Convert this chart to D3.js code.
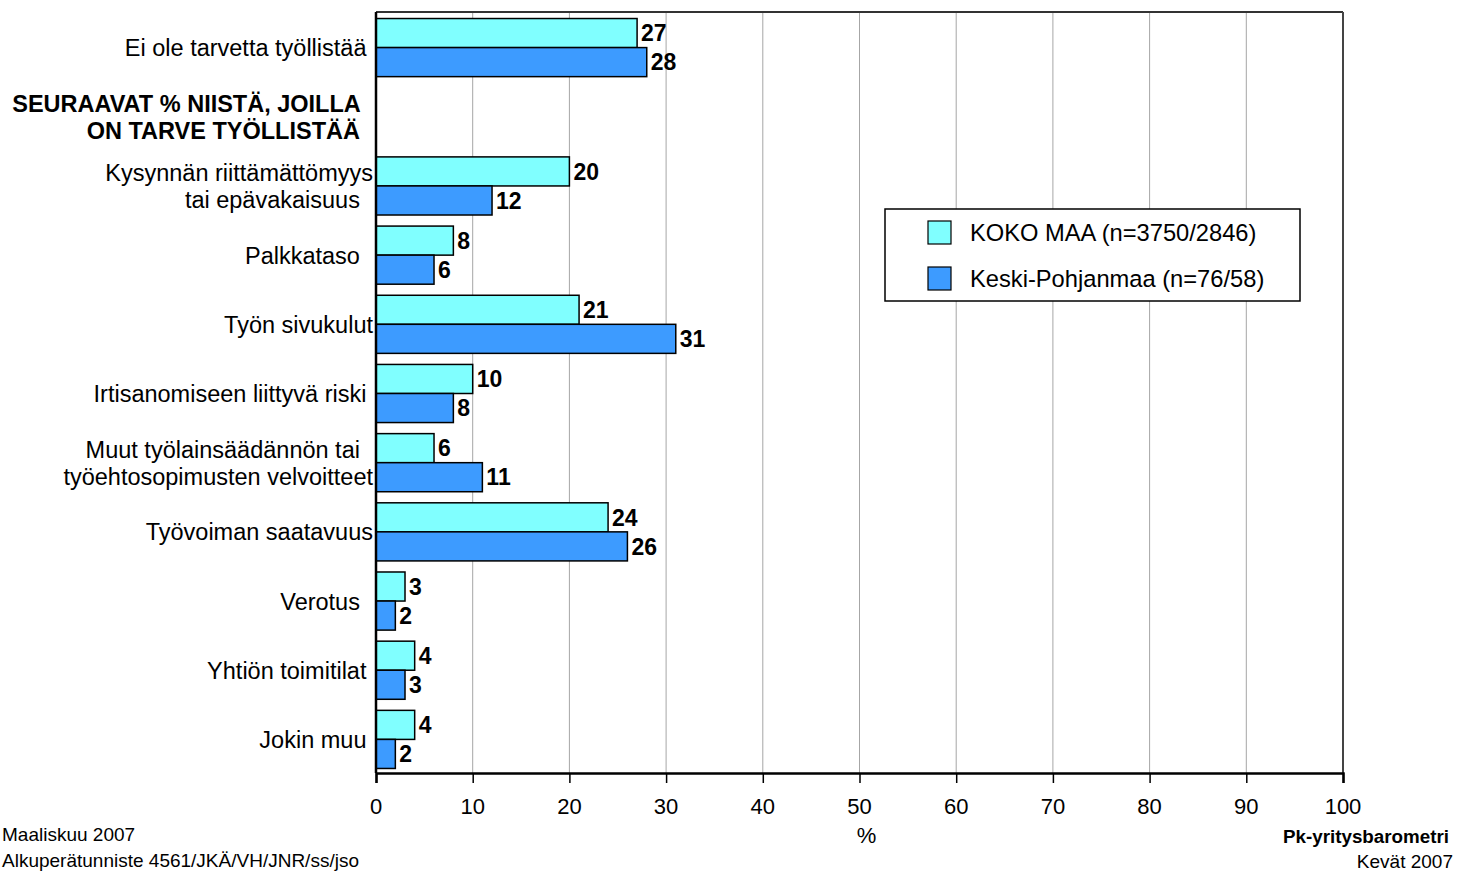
<!DOCTYPE html>
<html>
<head>
<meta charset="utf-8">
<script src="https://cdn.jsdelivr.net/npm/d3@7"></script>
<style>
  html, body { margin: 0; padding: 0; background: #fff; }
  svg { display: block; font-family: "Liberation Sans", Arial, sans-serif; }
  text { white-space: pre; }
</style>
</head>
<body>
<svg id="chart" width="1468" height="871"></svg>
<script>
// ---- data ----
const categories = [
  ["Ei ole tarvetta työllistää "],
  ["SEURAAVAT % NIISTÄ, JOILLA  ", "ON TARVE TYÖLLISTÄÄ  "],
  ["Kysynnän riittämättömyys", "tai epävakaisuus  "],
  ["Palkkataso  "],
  ["Työn sivukulut"],
  ["Irtisanomiseen liittyvä riski "],
  ["Muut työlainsäädännön tai  ", "työehtosopimusten velvoitteet"],
  ["Työvoiman saatavuus"],
  ["Verotus  "],
  ["Yhtiön toimitilat "],
  ["Jokin muu "]
];
const headerRow = [false, true, false, false, false, false, false, false, false, false, false];
const seriesNames = ["KOKO MAA (n=3750/2846)", "Keski-Pohjanmaa (n=76/58)"];
const kokoMaa = [27, null, 20, 8, 21, 10, 6, 24, 3, 4, 4];
const keskiPohjanmaa = [28, null, 12, 6, 31, 8, 11, 26, 2, 3, 2];
const xTicks = [0, 10, 20, 30, 40, 50, 60, 70, 80, 90, 100];
const xLabel = "%";
const footLeft = ["Maaliskuu 2007", "Alkuperätunniste 4561/JKÄ/VH/JNR/ss/jso"];
const footRight = ["Pk-yritysbarometri", "Kevät 2007"];

(function () {
// ---- layout ----
const colors = ["#80ffff", "#3d9bff"];
const svg = d3.select("#chart");
const pLeft = 376, pRight = 1343, pTop = 12, pBottom = 773;

function addText(parent, x, y, str, o) {
  o = o || {};
  return parent.append("text")
    .attr("x", x).attr("y", y)
    .attr("font-size", o.size || 23)
    .attr("font-weight", o.bold ? "bold" : "normal")
    .attr("text-anchor", o.anchor || "start")
    .attr("dy", o.dy || null)
    .attr("fill", "#000")
    .text(str);
}

const x = d3.scaleLinear().domain([0, 100]).range([pLeft, pRight]);
const y = d3.scaleBand().domain(d3.range(categories.length)).range([pTop, pBottom])
  .paddingInner(0.16).paddingOuter(0.08);
const ySub = d3.scaleBand().domain([0, 1]).range([0, y.bandwidth()]);

// gridlines
svg.append("g").selectAll("line").data(xTicks.slice(1, -1)).join("line")
  .attr("x1", d => x(d)).attr("x2", d => x(d))
  .attr("y1", pTop).attr("y2", pBottom)
  .attr("stroke", "#a6a6a6").attr("stroke-width", 1);

// frame top & right
svg.append("line").attr("x1", pLeft).attr("x2", pRight).attr("y1", pTop).attr("y2", pTop)
  .attr("stroke", "#333").attr("stroke-width", 2);
svg.append("line").attr("x1", pRight).attr("x2", pRight).attr("y1", pTop).attr("y2", pBottom)
  .attr("stroke", "#444").attr("stroke-width", 2);

// bars
const series = [kokoMaa, keskiPohjanmaa];
series.forEach((vals, si) => {
  const g = svg.append("g");
  const data = vals.map((v, i) => ({ v, i })).filter(d => d.v !== null);
  g.selectAll("rect").data(data).join("rect")
    .attr("x", x(0))
    .attr("y", d => y(d.i) + ySub(si) + 1)
    .attr("width", d => x(d.v) - x(0))
    .attr("height", ySub.bandwidth())
    .attr("fill", colors[si])
    .attr("stroke", "#000").attr("stroke-width", 1.5);
  data.forEach(d => {
    addText(g, x(d.v) + 4, y(d.i) + ySub(si) + 1 + ySub.bandwidth() / 2, String(d.v),
      { bold: true, size: 23, dy: "0.36em" });
  });
});

// x axis
const xAxis = d3.axisBottom(x).tickValues(xTicks).tickSize(10).tickFormat("");
const ax = svg.append("g").attr("transform", `translate(0,${pBottom})`).call(xAxis);
ax.select(".domain").attr("stroke", "#000").attr("stroke-width", 2.5);
ax.selectAll(".tick line").attr("stroke", "#000").attr("stroke-width", 1.5);
xTicks.forEach(v => addText(svg, x(v), 814, String(v), { size: 22, anchor: "middle" }));

// y axis line
svg.append("line").attr("x1", pLeft).attr("x2", pLeft).attr("y1", pTop).attr("y2", pBottom)
  .attr("stroke", "#000").attr("stroke-width", 2.5);

// category labels
const lab = svg.append("g");
categories.forEach((lines, i) => {
  const cy = y(i) + y.bandwidth() / 2 + 1;
  const lh = 27;
  lines.forEach((ln, k) => {
    addText(lab, 373, cy + (k - (lines.length - 1) / 2) * lh, ln,
      { size: 23.5, anchor: "end", bold: headerRow[i], dy: "0.36em" });
  });
});

// x label
addText(svg, x(50) + 7, 843, xLabel, { size: 22, anchor: "middle" });

// legend
const lg = svg.append("g").attr("transform", "translate(885,209)");
lg.append("rect").attr("width", 415).attr("height", 92)
  .attr("fill", "#fff").attr("stroke", "#000").attr("stroke-width", 1.5);
seriesNames.forEach((nm, i) => {
  lg.append("rect").attr("x", 43).attr("y", 12 + i * 46).attr("width", 23).attr("height", 23)
    .attr("fill", colors[i]).attr("stroke", "#000").attr("stroke-width", 1.2);
  addText(lg, 85, 23.5 + i * 46, nm, { size: 23.7, dy: "0.36em" });
});

// footers
addText(svg, 2, 841, footLeft[0], { size: 19 });
addText(svg, 2, 867, footLeft[1], { size: 19 });
addText(svg, 1449, 843, footRight[0], { size: 18.8, bold: true, anchor: "end" });
addText(svg, 1453, 868, footRight[1], { size: 19, anchor: "end" });
})();
</script>
</body>
</html>
